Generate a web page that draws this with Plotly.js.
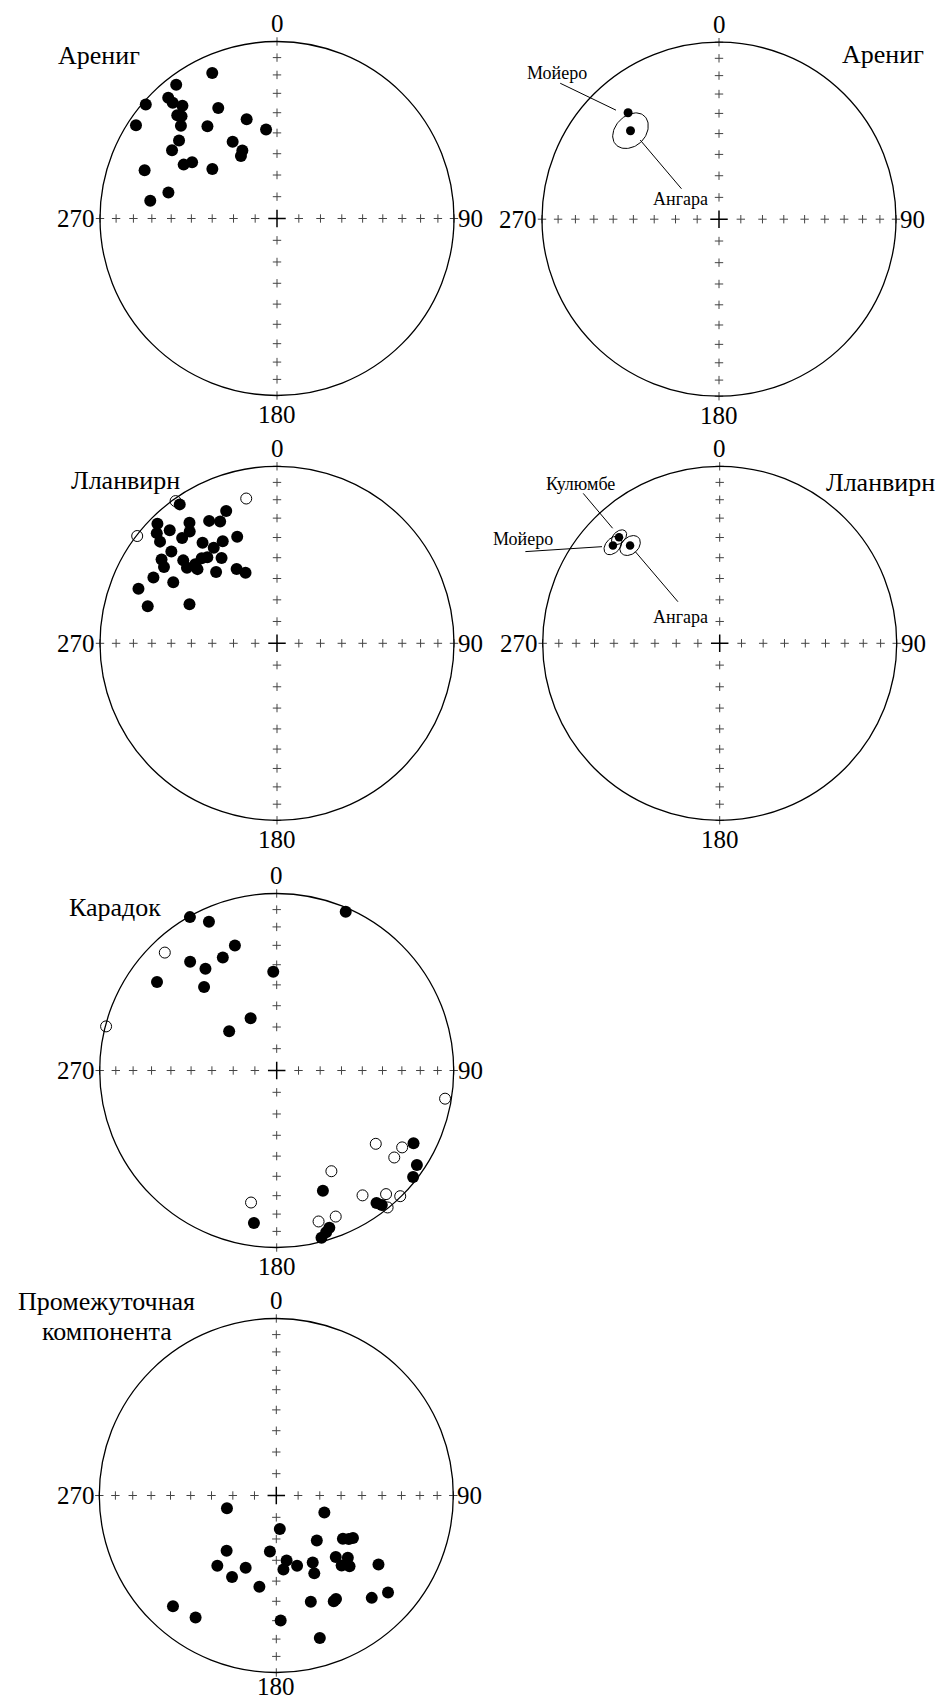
<!DOCTYPE html>
<html><head><meta charset="utf-8">
<script src="https://cdn.plot.ly/plotly-3.0.1.min.js"></script>
<style>html,body{margin:0;padding:0;background:#fff}</style>
</head><body>
<div id="chart" style="width:944px;height:1702px"></div>
<script>
// ---------------- DATA (declination, inclination in degrees) ----------------
// Panel 1: Арениг, site/sample directions (lower hemisphere)
const arenigDec = [336, 323, 318, 318, 320, 311, 316, 317, 314, 303.5, 332, 343, 353, 323, 308.5, 330, 333, 330, 303, 300, 303.5, 307.5, 290, 283.5, 278];
const arenigInc = [11, 6, 9, 13, 18, 2, 20, 22, 25.5, 5, 30, 41, 48, 35, 30, 48.5, 54.5, 56.5, 30, 39, 42, 52, 21.5, 37, 28.5];

// Panel 2: Арениг, mean directions
const arenigMeanNames = ['Мойеро', 'Ангара'];
const arenigMeanDec = [319.5, 315];
const arenigMeanInc = [22, 30];
const arenigMeanA95 = [0, 8];

// Panel 3: Лланвирн
const llanvirnDec = [325, 339, 331, 335, 324, 315, 316.5, 312.5, 322, 318, 311, 339.5, 323.5, 332, 326.5, 311, 321, 327, 306, 311.5, 314, 310, 304, 313, 319.5, 331.5, 336, 298, 300.5, 291.5, 286, 294, 318.5];
const llanvirnInc = [4.7, 21, 22, 25, 17, 5, 13, 8.7, 21, 21, 13.5, 36, 30, 35, 35.5, 22, 37.5, 42, 20.5, 30, 36, 34, 24, 38.5, 46, 50.5, 54, 22, 32.5, 17, 25, 45, 36];
const llanvirnUpDec = [324.5, 307.5, 348];
const llanvirnUpInc = [-1.5, -0.5, -17.5];

// Panel 4: Лланвирн, mean directions
const llanvirnMeanNames = ['Кулюмбе', 'Мойеро', 'Ангара'];
const llanvirnMeanDec = [316.5, 312.5, 317.5];
const llanvirnMeanInc = [18.5, 19.3, 26];
const llanvirnMeanA95 = [3.3, 4, 4.5];

// Panel 5: Карадок
const caradocDec = [330.5, 335.5, 23.5, 341.5, 334.5, 321.5, 325, 306.5, 319, 358, 333.5, 309.5, 118, 124, 128, 159, 143, 142, 161.5, 163, 165, 188.5];
const caradocInc = [0.5, 8.5, 2.5, 26.5, 30, 22.5, 30.5, 17, 37.5, 43.5, 63, 61.5, 13.5, 5, 2.5, 28, 7, 4, 7, 5, 2.5, 14];
const caradocUpDec = [316.5, 284.5, 99.5, 126.5, 121.5, 126.5, 151.5, 145.5, 138.5, 135.5, 141, 158, 164.5, 191];
const caradocUpInc = [-9, -0.5, -4, -31, -18, -18.5, -35.5, -15.5, -7.5, -0.5, -0.5, -12, -12.5, -25];

// Panel 6: Промежуточная компонента
const interDec = [255.5, 109.5, 174, 138, 123, 121, 119, 222, 186.5, 171, 163.5, 174.5, 151.5, 154, 136, 131, 137, 134, 124, 220, 203, 208.5, 190.5, 162, 151.5, 150, 137, 131, 223, 213.5, 178, 163];
const interInc = [66.5, 66.5, 74.5, 62, 53, 50.5, 49, 55.5, 64, 59.5, 56, 55.5, 54.5, 49.5, 50, 45.5, 45, 42, 31, 47, 53.5, 46.5, 46.5, 37, 32.5, 33, 22, 17.5, 15.5, 18.5, 30, 17];

// Net ticks
const tickIncs = [0, 10, 20, 30, 40, 50, 60, 70, 80];
const tickDecs = [0, 90, 180, 270];
const tickLabels = ['0', '90', '180', '270'];

// ---------------- LAYOUT CONFIG ----------------
const W = 944, H = 1702, R = 177, SPAN = 1.15;
const panels = [
  {cx: 277, cy: 218.5, bottomLabelY: -1.11}, {cx: 719, cy: 219.2, bottomLabelY: -1.11},
  {cx: 277, cy: 643.3, bottomLabelY: -1.11}, {cx: 719.7, cy: 643.3, bottomLabelY: -1.11},
  {cx: 276.7, cy: 1070.5, bottomLabelY: -1.11}, {cx: 276.3, cy: 1495.5, bottomLabelY: -1.08}
];
const FONT = 'Liberation Serif, Times New Roman, serif';

function proj(dec, inc) {
  const r = Math.SQRT2 * Math.sin((90 - Math.abs(inc)) / 2 * Math.PI / 180);
  const d = dec * Math.PI / 180;
  return [r * Math.sin(d), r * Math.cos(d)];
}
function projAll(decs, incs) {
  const xs = [], ys = [];
  decs.forEach((d, i) => { const p = proj(d, incs[i]); xs.push(p[0]); ys.push(p[1]); });
  return [xs, ys];
}
function ovalXY(dec, inc, a95) {
  const xs = [], ys = [];
  for (let k = 0; k <= 90; k++) {
    const p = k * 4 * Math.PI / 180;
    const I = inc + a95 * Math.cos(p);
    const D = dec + a95 * Math.sin(p) / Math.cos(inc * Math.PI / 180);
    const q = proj(D, I); xs.push(q[0]); ys.push(q[1]);
  }
  return [xs, ys];
}

const layout = {
  width: W, height: H, autosize: false,
  margin: {l: 0, r: 0, t: 0, b: 0},
  paper_bgcolor: '#fff', plot_bgcolor: 'rgba(0,0,0,0)',
  showlegend: false, shapes: [], annotations: []
};
const traces = [];
const h = SPAN * R;

panels.forEach((p, i) => {
  const n = i === 0 ? '' : String(i + 1);
  layout['xaxis' + n] = {domain: [(p.cx - h) / W, (p.cx + h) / W], range: [-SPAN, SPAN], visible: false, fixedrange: true, anchor: 'y' + n};
  layout['yaxis' + n] = {domain: [(H - p.cy - h) / H, (H - p.cy + h) / H], range: [-SPAN, SPAN], visible: false, fixedrange: true, anchor: 'x' + n};
  const xa = 'x' + n, ya = 'y' + n;
  // primitive circle
  layout.shapes.push({type: 'circle', xref: xa, yref: ya, x0: -1, x1: 1, y0: -1, y1: 1, line: {color: '#000', width: 1.3}});
  // crosses
  const cd = [], ci = [];
  tickDecs.forEach(d => tickIncs.forEach(I => { cd.push(d); ci.push(I); }));
  const c = projAll(cd, ci);
  traces.push({type: 'scatter', mode: 'markers', x: c[0], y: c[1], xaxis: xa, yaxis: ya, hoverinfo: 'skip', cliponaxis: false,
    marker: {symbol: 'cross-thin', size: 6, color: '#444', line: {color: '#444', width: 1}}});
  const cc = proj(0, 90);
  traces.push({type: 'scatter', mode: 'markers', x: [cc[0]], y: [cc[1]], xaxis: xa, yaxis: ya, hoverinfo: 'skip',
    marker: {symbol: 'cross-thin', size: 12.5, color: '#000', line: {color: '#000', width: 1.5}}});
  // tick labels
  const lf = {family: FONT, size: 25, color: '#000'};
  layout.annotations.push({xref: xa, yref: ya, x: 0, y: 1.10, text: tickLabels[0], showarrow: false, font: lf, xanchor: 'center', yanchor: 'middle'});
  layout.annotations.push({xref: xa, yref: ya, x: 1.012, y: 0, text: tickLabels[1], showarrow: false, font: lf, xanchor: 'left', yanchor: 'middle'});
  layout.annotations.push({xref: xa, yref: ya, x: 0, y: p.bottomLabelY, text: tickLabels[2], showarrow: false, font: lf, xanchor: 'center', yanchor: 'middle', borderpad: 0});
  layout.annotations.push({xref: xa, yref: ya, x: -1.015, y: 0, text: tickLabels[3], showarrow: false, font: lf, xanchor: 'right', yanchor: 'middle'});
});

function ax(i) { const n = i === 0 ? '' : String(i + 1); return ['x' + n, 'y' + n]; }
function dots(i, decs, incs, size) {
  const a = ax(i), pr = projAll(decs, incs);
  traces.push({type: 'scatter', mode: 'markers', x: pr[0], y: pr[1], xaxis: a[0], yaxis: a[1], cliponaxis: false,
    marker: {symbol: 'circle', size: size, color: '#000', line: {width: 0}}});
}
function openDots(i, decs, incs, size) {
  const a = ax(i), pr = projAll(decs, incs);
  traces.push({type: 'scatter', mode: 'markers', x: pr[0], y: pr[1], xaxis: a[0], yaxis: a[1], cliponaxis: false,
    marker: {symbol: 'circle', size: size, color: '#fff', line: {width: 1, color: '#000'}}});
}
function ovals(i, decs, incs, a95s) {
  const a = ax(i);
  decs.forEach((d, k) => {
    if (!a95s[k]) return;
    const o = ovalXY(d, incs[k], a95s[k]);
    traces.push({type: 'scatter', mode: 'lines', x: o[0], y: o[1], xaxis: a[0], yaxis: a[1], hoverinfo: 'skip',
      line: {color: '#000', width: 1}});
  });
}

// Panel 1
dots(0, arenigDec, arenigInc, 12);
// Panel 2
ovals(1, arenigMeanDec, arenigMeanInc, arenigMeanA95);
dots(1, arenigMeanDec, arenigMeanInc, 9);
// Panel 3
openDots(2, llanvirnUpDec, llanvirnUpInc, 11);
dots(2, llanvirnDec, llanvirnInc, 12);
// Panel 4
ovals(3, llanvirnMeanDec, llanvirnMeanInc, llanvirnMeanA95);
dots(3, llanvirnMeanDec, llanvirnMeanInc, 8.5);
// Panel 5
openDots(4, caradocUpDec, caradocUpInc, 11);
dots(4, caradocDec, caradocInc, 12);
// Panel 6
dots(5, interDec, interInc, 12);

// Titles
const tf = {family: FONT, size: 26, color: '#000'};
const titles = [
  {p: 0, text: 'Арениг', x: -0.764, y: 0.923, xanchor: 'right'},
  {p: 1, text: 'Арениг', x: 0.685, y: 0.928, xanchor: 'left'},
  {p: 2, text: 'Лланвирн', x: -0.538, y: 0.917, xanchor: 'right'},
  {p: 3, text: 'Лланвирн', x: 0.588, y: 0.910, xanchor: 'left'},
  {p: 4, text: 'Карадок', x: -0.641, y: 0.922, xanchor: 'right'},
  {p: 5, text: 'Промежуточная', x: -0.959, y: 1.095, xanchor: 'center'},
  {p: 5, text: 'компонента', x: -0.959, y: 0.925, xanchor: 'center'}
];
titles.forEach(t => {
  const a = ax(t.p);
  layout.annotations.push({xref: a[0], yref: a[1], x: t.x, y: t.y, text: t.text, showarrow: false, font: tf, xanchor: t.xanchor, yanchor: 'middle'});
});

// Mean-direction labels with leader lines
const sf = {family: FONT, size: 18, color: '#000'};
const callouts = [
  {p: 1, name: arenigMeanNames[0], tx: -0.915, ty: 0.824, line: [-0.897, 0.768, -0.582, 0.616]},
  {p: 1, name: arenigMeanNames[1], tx: -0.216, ty: 0.112, line: [-0.445, 0.447, -0.212, 0.172]},
  {p: 3, name: llanvirnMeanNames[0], tx: -0.789, ty: 0.900, line: [-0.771, 0.847, -0.605, 0.650]},
  {p: 3, name: llanvirnMeanNames[1], tx: -1.111, ty: 0.588, line: [-1.098, 0.518, -0.665, 0.546]},
  {p: 3, name: llanvirnMeanNames[2], tx: -0.223, ty: 0.150, line: [-0.477, 0.518, -0.236, 0.235]}
];
callouts.forEach(c => {
  const a = ax(c.p);
  layout.annotations.push({xref: a[0], yref: a[1], x: c.tx, y: c.ty, text: c.name, showarrow: false, font: sf, xanchor: 'center', yanchor: 'middle'});
  layout.shapes.push({type: 'line', xref: a[0], yref: a[1], x0: c.line[0], y0: c.line[1], x1: c.line[2], y1: c.line[3], line: {color: '#000', width: 1}});
});

Plotly.newPlot('chart', traces, layout, {staticPlot: true, displayModeBar: false});
</script>
</body></html>
